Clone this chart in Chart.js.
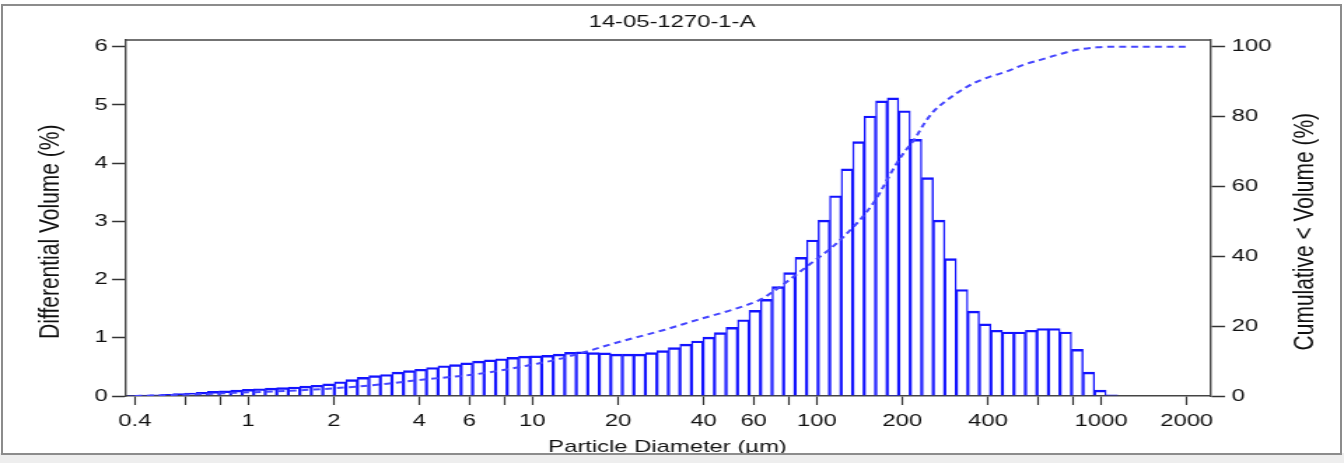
<!DOCTYPE html>
<html>
<head>
<meta charset="utf-8">
<title>14-05-1270-1-A</title>
<script src="https://cdn.jsdelivr.net/npm/chart.js@4.4.1/dist/chart.umd.min.js"></script>
<style>
  html, body { margin: 0; padding: 0; background: #fff; }
  body { width: 1344px; height: 463px; position: relative; overflow: hidden; }
  #frame { position: absolute; left: 1px; top: 4px; width: 1337px; height: 447px; border: 2px solid #8c8c8c; z-index: 2; pointer-events: none; }
  #strip { position: absolute; left: 0; top: 453px; width: 1344px; height: 10px; background: #eeeeee; }
  /* the reference picture is stretched sideways, so the chart is drawn narrow and widened */
  #wrap { position: absolute; left: 0; top: 0; width: 960px; height: 463px; transform: scaleX(1.4); transform-origin: 0 0; }
</style>
</head>
<body>
<div id="strip"></div>
<div id="frame"></div>
<div id="wrap"><canvas id="chart" width="960" height="463"></canvas></div>
<script>
// Channel edges of the analyser (µm), one more than the number of bars
const channelEdges = [
  0.3750, 0.4117, 0.4519, 0.4960, 0.5446, 0.5978, 0.6563, 0.7204, 0.7909, 0.8682,
  0.9531, 1.0463, 1.1486, 1.2609, 1.3842, 1.5195, 1.6681, 1.8312, 2.0103, 2.2068,
  2.4226, 2.6595, 2.9195, 3.2050, 3.5184, 3.8624, 4.2400, 4.6546, 5.1097, 5.6093,
  6.1579, 6.7600, 7.4210, 8.1466, 8.9432, 9.8176, 10.778, 11.832, 12.988, 14.258,
  15.652, 17.183, 18.863, 20.707, 22.732, 24.955, 27.395, 30.073, 33.014, 36.242,
  39.786, 43.676, 47.947, 52.635, 57.782, 63.432, 69.634, 76.443, 83.918, 92.124,
  101.08, 110.97, 121.82, 133.73, 146.81, 161.16, 176.92, 194.22, 213.21, 234.06,
  256.95, 282.07, 309.66, 339.93, 373.17, 409.66, 449.72, 493.70, 541.97, 594.97,
  653.14, 717.01, 787.12, 864.08, 948.57, 1041.3, 1143.2
]

// Differential volume (%) per channel
const diffVolume = [
  0.01, 0.015, 0.02, 0.03, 0.04, 0.05, 0.065, 0.08, 0.09, 0.10,
  0.115, 0.125, 0.135, 0.145, 0.155, 0.17, 0.185, 0.21, 0.245, 0.28,
  0.32, 0.35, 0.37, 0.41, 0.435, 0.46, 0.49, 0.52, 0.54, 0.57,
  0.60, 0.62, 0.64, 0.665, 0.685, 0.69, 0.70, 0.72, 0.75, 0.76,
  0.745, 0.74, 0.72, 0.72, 0.72, 0.745, 0.78, 0.83, 0.89, 0.945,
  1.01, 1.09, 1.18, 1.31, 1.47, 1.66, 1.88, 2.12, 2.38, 2.68,
  3.02, 3.44, 3.90, 4.37, 4.81, 5.07, 5.12, 4.90, 4.41, 3.75,
  3.02, 2.36, 1.83, 1.46, 1.24, 1.13, 1.10, 1.10, 1.13, 1.16,
  1.16, 1.10, 0.80, 0.41, 0.10, 0.02
]

// Cumulative < volume (%)
const cumSizes = [0.4, 0.6, 0.9, 1.4, 2, 3, 4, 6, 8, 10, 12, 15, 20, 29, 38, 50, 63, 70, 92, 121,
  158, 191, 202, 222, 237, 257, 283, 311, 356, 407, 466, 533, 611, 699, 822, 967, 1076, 2000]
const cumVolume = [0, 0.4, 0.9, 1.5, 2.2, 3.4, 4.6, 6.0, 7.5, 9.0, 10.3, 12.4, 15.4, 18.9, 21.8, 24.6, 27.5, 29.8, 37.0, 44.7,
  55.2, 66.6, 69.5, 73.8, 77.6, 81.4, 84.3, 86.7, 89.5, 91.4, 92.9, 94.8, 96.2, 97.6, 99.1, 99.8, 100, 100]

// Axis ticks
const xTickValues = [0.4, 0.6, 0.8, 1, 2, 4, 6, 8, 10, 20, 40, 60, 80, 100, 200, 400, 600, 800, 1000, 2000]
const xTickLabels = [0.4, 1, 2, 4, 6, 10, 20, 40, 60, 100, 200, 400, 1000, 2000]
const yLeftTicks = [0, 1, 2, 3, 4, 5, 6]
const yRightTicks = [0, 20, 40, 60, 80, 100]

const FONT = '"Liberation Sans", Arial, Helvetica, sans-serif'
const TEXT = "#111"
Chart.defaults.font.family = FONT
Chart.defaults.color = TEXT

// bars sit on the geometric middle of each channel
const barPoints = diffVolume.map((v, i) => ({
  x: Math.sqrt(channelEdges[i] * channelEdges[i + 1]),
  y: v,
}))
const cumPoints = cumSizes.map((s, i) => ({ x: s, y: cumVolume[i] }))

// top edge of the plot box and the two side titles
const framePlugin = {
  id: "frame",
  afterDraw(chart) {
    const { ctx, chartArea } = chart
    ctx.save()
    ctx.strokeStyle = "#444"
    ctx.lineWidth = 1.5
    ctx.beginPath()
    ctx.moveTo(chartArea.left, chartArea.top)
    ctx.lineTo(chartArea.right, chartArea.top)
    ctx.stroke()

    ctx.fillStyle = TEXT
    ctx.font = "21px " + FONT
    ctx.textAlign = "center"
    ctx.textBaseline = "middle"
    const titles = [
      [36.4, "Differential Volume (%)"],
      [932.1, "Cumulative < Volume (%)"],
    ]
    titles.forEach(([x, text]) => {
      ctx.save()
      ctx.translate(x, 231.7)
      ctx.rotate(-Math.PI / 2)
      ctx.fillText(text, 0, 0)
      ctx.restore()
    })
    ctx.restore()
  },
}

const tickFont = { size: 17 }

new Chart(document.getElementById("chart"), {
  type: "bar",
  data: {
    datasets: [
      {
        type: "line",
        label: "Cumulative",
        data: cumPoints,
        yAxisID: "y2",
        borderColor: "#4646ff",
        borderWidth: 2,
        borderDash: [5, 3.5],
        pointRadius: 0,
        fill: false,
        cubicInterpolationMode: "monotone",
        order: 0,
      },
      {
        label: "Differential",
        data: barPoints,
        yAxisID: "y",
        backgroundColor: "rgba(255,255,255,0)",
        borderColor: "#1414ff",
        borderWidth: { top: 1.8, left: 0.75, right: 0.75, bottom: 0 },
        borderSkipped: false,
        barPercentage: 1,
        categoryPercentage: 1,
        order: 1,
      },
    ],
  },
  options: {
    responsive: false,
    maintainAspectRatio: false,
    animation: false,
    devicePixelRatio: 1,
    layout: { padding: 0 },
    plugins: {
      legend: { display: false },
      tooltip: { enabled: false },
      title: {
        display: true,
        text: "14-05-1270-1-A",
        color: TEXT,
        font: { size: 17, weight: "normal" },
        padding: { top: 12, bottom: 7.6 },
      },
    },
    scales: {
      x: {
        type: "logarithmic",
        min: 0.369,
        max: 2416,
        offset: false,
        afterBuildTicks: (s) => {
          s.ticks = xTickValues.map((v) => ({ value: v }))
        },
        afterFit: (s) => {
          s.height = 67
        },
        ticks: {
          autoSkip: false,
          maxRotation: 0,
          minRotation: 0,
          padding: 6,
          font: tickFont,
          color: TEXT,
          callback: (v) => (xTickLabels.includes(v) ? String(v) : ""),
        },
        grid: {
          drawOnChartArea: false,
          offset: false,
          tickLength: 9,
          tickColor: "#333",
          tickWidth: 1.2,
        },
        border: { color: "#444", width: 1.5 },
        title: {
          display: true,
          text: "Particle Diameter (µm)",
          color: TEXT,
          font: { size: 17 },
          padding: { top: 0, bottom: 5 },
        },
      },
      y: {
        position: "left",
        min: 0,
        max: 6.115,
        afterBuildTicks: (s) => {
          s.ticks = yLeftTicks.map((v) => ({ value: v }))
        },
        afterFit: (s) => {
          s.width = 89.3
        },
        ticks: { padding: 3, font: tickFont, color: TEXT },
        grid: { drawOnChartArea: false, tickLength: 9.3, tickColor: "#333", tickWidth: 1.5 },
        border: { color: "#444", width: 1.4 },
      },
      y2: {
        position: "right",
        min: 0,
        max: 101.9,
        afterBuildTicks: (s) => {
          s.ticks = yRightTicks.map((v) => ({ value: v }))
        },
        afterFit: (s) => {
          s.width = 95.7
        },
        ticks: { padding: 4.8, font: tickFont, color: TEXT },
        grid: { drawOnChartArea: false, tickLength: 10.7, tickColor: "#333", tickWidth: 1.5 },
        border: { color: "#444", width: 1.4 },
      },
    },
  },
  plugins: [framePlugin],
})
</script>
</body>
</html>
